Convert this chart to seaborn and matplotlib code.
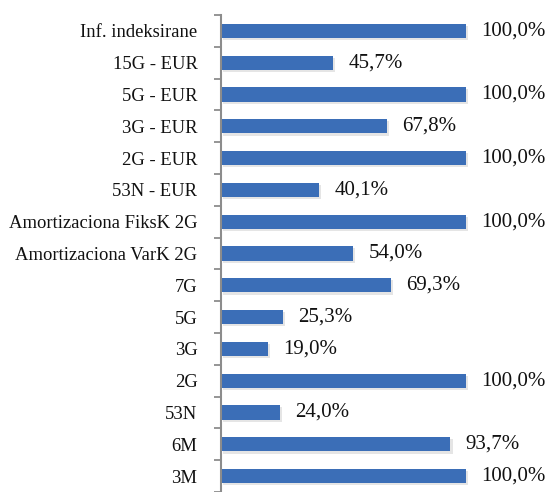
import matplotlib
matplotlib.use('Agg')
import matplotlib.pyplot as plt
import matplotlib.patheffects as pe
from matplotlib.ticker import FixedLocator
import seaborn as sns

# Data (top to bottom as shown)
categories = ['Inf. indeksirane', '15G - EUR', '5G - EUR', '3G - EUR', '2G - EUR',
              '53N - EUR', 'Amortizaciona FiksK 2G', 'Amortizaciona VarK 2G',
              '7G', '5G', '3G', '2G', '53N', '6M', '3M']
values = [100.0, 45.7, 100.0, 67.8, 100.0, 40.1, 100.0, 54.0,
          69.3, 25.3, 19.0, 100.0, 24.0, 93.7, 100.0]
value_labels = [f'{v:.1f}'.replace('.', ',') + '%' for v in values]

sns.set_style('white')
plt.rcParams['font.family'] = ['Liberation Serif', 'DejaVu Serif']

fig = plt.figure(figsize=(5.47, 4.92), dpi=100)
ax = fig.add_axes([221 / 547, 0.0, 326 / 547, 477 / 492])

# categories may repeat (5G, 3G ...), so plot against unique keys
keys = [str(i) for i in range(len(categories))]
sns.barplot(x=values, y=keys, orient='h', color='#3b6eb7', saturation=1,
            width=0.45, ax=ax)

for p in ax.patches:
    p.set_edgecolor('none')
    p.set_path_effects([pe.SimplePatchShadow(offset=(1.5, -1.5), shadow_rgbFace='#999999', alpha=0.25),
                        pe.Normal()])

for i, (v, lab) in enumerate(zip(values, value_labels)):
    ax.annotate(lab, xy=(v, i), xytext=(11, 0), textcoords='offset points',
                ha='left', va='center', fontsize=15, color='#111111')

ax.set_xlim(0, 133.1)
ax.set_ylim(len(categories) - 0.5, -0.5)

ax.set_yticks(range(len(categories)))
ax.set_yticklabels(categories, fontsize=13.4, color='#111111')
ax.tick_params(axis='y', which='major', length=0, pad=17)
ax.yaxis.set_minor_locator(FixedLocator([i - 0.5 for i in range(len(categories) + 1)]))
ax.tick_params(axis='y', which='minor', length=5, width=1.3, color='#8c8c8c', direction='out', left=True)

ax.set_xticks([])
ax.set_xlabel('')
ax.set_ylabel('')
for s in ['top', 'right', 'bottom']:
    ax.spines[s].set_visible(False)
ax.spines['left'].set_color('#8c8c8c')
ax.spines['left'].set_linewidth(1.5)

fig.savefig('out.png', dpi=100)
